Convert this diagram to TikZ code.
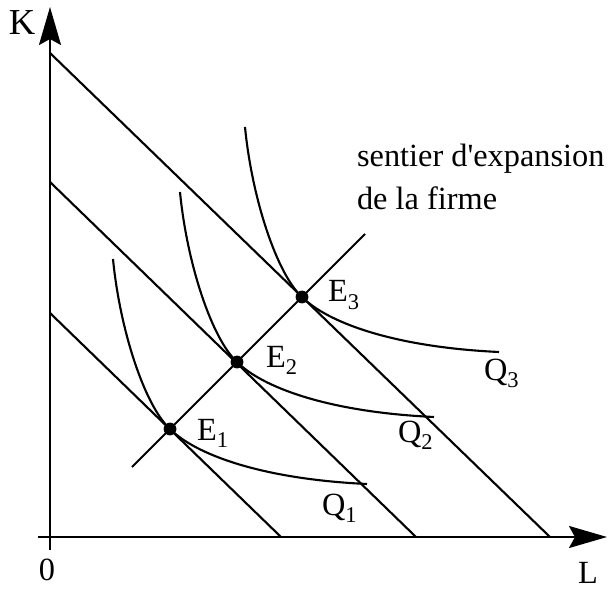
\documentclass[tikz,border=0pt]{standalone}
\usepackage{fontspec}
\setmainfont{Liberation Serif}
\usetikzlibrary{arrows.meta}

\newcommand{\lowidx}[1]{\raisebox{-5pt}{\fontsize{16}{16}\selectfont #1}}

\begin{document}
\begin{tikzpicture}[x=0.025cm,y=-0.025cm,line width=1.5pt,
  every node/.style={font=\fontsize{23}{30.5}\selectfont, inner sep=0pt},
  axis/.style={-{Stealth[length=0.95cm,width=0.55cm,inset=0.15cm]}},
  eqpt/.style={circle,fill=black,minimum size=0.32cm},
  lab/.style={anchor=base west}]
\useasboundingbox (0,0) rectangle (610,589);
% axes
\coordinate (kstart) at (50,550);
\coordinate (kend) at (50,7);
\coordinate (lstart) at (38,537);
\coordinate (lend) at (607,537);
\draw[axis] (kstart) -- (kend);
\draw[axis] (lstart) -- (lend);
\node[font=\fontsize{26}{30}\selectfont] (K) at (22,23) {K};
\node (zero) at (47,570) {0};
\node (L) at (588,573) {L};
% isocost lines
\coordinate (k1) at (50,313); \coordinate (l1) at (281,537);
\coordinate (k2) at (50,182); \coordinate (l2) at (416,537);
\coordinate (k3) at (50,53);  \coordinate (l3) at (550,537);
\draw (k1) -- (l1);
\draw (k2) -- (l2);
\draw (k3) -- (l3);
% equilibrium points
\node[eqpt] (E1) at (170,429) {};
\node[eqpt] (E2) at (237,362) {};
\node[eqpt] (E3) at (302,297) {};
% expansion path
\coordinate (p0) at (132,467);
\coordinate (p1) at (365,234);
\draw (p0) -- (p1);
% isoquants
\foreach \e in {E1,E2,E3}
  \draw[shift={(\e)}] (-57,-170) .. controls (-50,-98) and (-25,-23) .. (0,0)
    .. controls (25,25) and (90,50) .. (197,55);
% labels
\node[lab] (lE1) at (196,440) {E\lowidx{1}};
\node[lab] (lE2) at (265,367) {E\lowidx{2}};
\node[lab] (lE3) at (327,302) {E\lowidx{3}};
\node[lab] (lQ1) at (321,515) {Q\lowidx{1}};
\node[lab] (lQ2) at (397,442) {Q\lowidx{2}};
\node[lab] (lQ3) at (483,380) {Q\lowidx{3}};
\node[anchor=north west,align=left] (sentier) at (356,143) {sentier d\textquotesingle expansion\\de la firme};
\end{tikzpicture}
\end{document}
